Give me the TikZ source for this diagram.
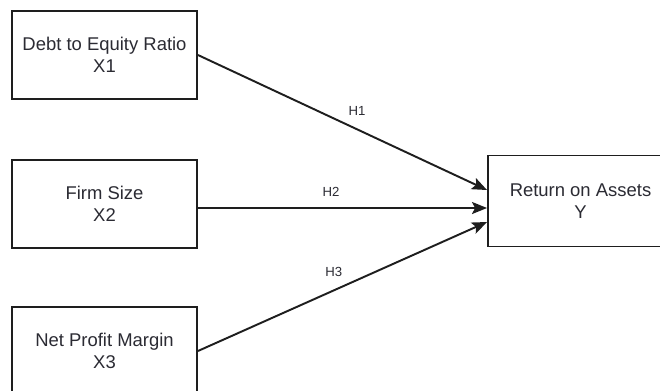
\documentclass[tikz,border=0pt]{standalone}
\usepackage{fontspec}
\setmainfont{Liberation Sans}
\usetikzlibrary{arrows.meta,positioning,calc}
\definecolor{ink}{HTML}{1E1E1E}
\definecolor{txt}{HTML}{2B2B33}
\tikzset{var/.style={draw=ink,line width=1.1pt,fill=white,align=center,font=\fontsize{10.5}{12.5}\selectfont,text=txt,minimum width=3.7cm,minimum height=1.76cm,inner sep=0pt}, hyp/.style={-{Stealth[length=3mm,width=2.4mm,inset=0.6mm]},line width=1.1pt,draw=ink}, hlab/.style={font=\fontsize{7.5}{9}\selectfont,text=txt,inner sep=1pt}}

\begin{document}
\begin{tikzpicture}[x=0.02cm,y=-0.02cm]
\useasboundingbox (0,0) rectangle (660,390);
\clip (0,0) rectangle (660,390);
\node[var] (x1) at (104.5,55) {Debt to Equity Ratio\\X1};
\node[var] (x2) at (104.5,204) {Firm Size\\X2};
\node[var] (x3) at (104.5,351) {Net Profit Margin\\X3};
\node[var,minimum height=1.82cm] (y) at (580.5,201) {Return on Assets\\Y};
% arrow tips on the left side of Y
\coordinate (t1) at ([yshift=0.22cm]y.west);
\coordinate (t2) at ([yshift=-0.14cm]y.west);
\coordinate (t3) at ([yshift=-0.42cm]y.west);
\draw[hyp] (x1.east)--node[hlab,pos=0.55,above=6pt]{H1}(t1);
\draw[hyp] (x2.east |- t2)--node[hlab,pos=0.46,above=5pt]{H2}(t2);
\draw[hyp] (x3.east)--node[hlab,pos=0.47,above=6pt]{H3}(t3);
\end{tikzpicture}
\end{document}
